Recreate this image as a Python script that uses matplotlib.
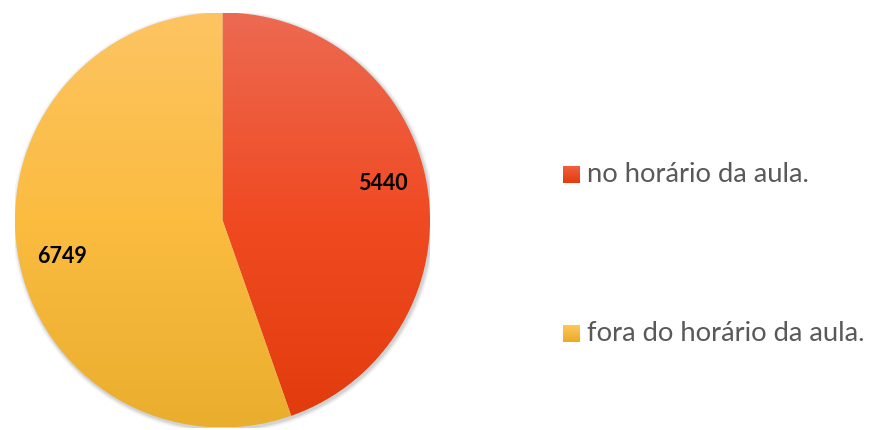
import numpy as np
import matplotlib
matplotlib.use('Agg')
import matplotlib.pyplot as plt
from matplotlib.colors import LinearSegmentedColormap
from matplotlib.patches import Circle

# data
categories = ['no horário da aula.', 'fora do horário da aula.']
values = [5440, 6749]
# gradient stops (top, middle, bottom) for each slice
grad_colors = [['#EC6A52', '#F04A22', '#E13B0C'],
               ['#FDC462', '#FBBC40', '#EAAE2E']]

W, H = 872, 430
fig = plt.figure(figsize=(W / 100, H / 100), dpi=100)

# pie placement in pixels
cx, cy, r = 222.5, 220, 207.5
ax = fig.add_axes([(cx - r) / W, (H - cy - r) / H, 2 * r / W, 2 * r / H])

# faint shadow under the pie
for k, a in [(4, 0.04), (2.5, 0.06), (1.2, 0.08)]:
    ax.add_patch(Circle((0.006, -0.008), 1 + k / r, color='black', alpha=a, lw=0, zorder=0))

wedges, texts, autotexts = ax.pie(
    values, startangle=90, counterclock=False, radius=1,
    colors=['none', 'none'], wedgeprops=dict(linewidth=0),
    autopct=lambda p: f'{round(p * sum(values) / 100):d}', pctdistance=0.8,
    textprops=dict(fontsize=15.5, fontweight='bold', color='black', family='Lato'))

grad = np.linspace(0, 1, 256).reshape(-1, 1)
for w, cols in zip(wedges, grad_colors):
    cmap = LinearSegmentedColormap.from_list('g', cols)
    im = ax.imshow(grad, extent=[-1, 1, -1, 1], origin='upper', cmap=cmap,
                   aspect='auto', zorder=1)
    im.set_clip_path(w)

# labels sit a little off the slice middle, like the original (best fit)
for w, t in zip(wedges, autotexts):
    ang = np.deg2rad((w.theta1 + w.theta2) / 2 + 3.2)
    t.set_position((0.795 * np.cos(ang), 0.795 * np.sin(ang)))
    t.set_zorder(3)

ax.set_xlim(-1, 1)
ax.set_ylim(-1, 1)
ax.axis('off')

# legend drawn in pixel coords
lax = fig.add_axes([0, 0, 1, 1])
lax.set_xlim(0, W)
lax.set_ylim(H, 0)
lax.axis('off')
leg_y = [174.5, 333.5]
leg_cols = [['#F35E3E', '#E23C0E'], ['#FFC859', '#EAA928']]
for lab, y, cols in zip(categories, leg_y, leg_cols):
    cmap = LinearSegmentedColormap.from_list('l', cols)
    lax.imshow(grad, extent=[563, 580, y + 8.5, y - 8.5], cmap=cmap, aspect='auto', origin='upper')
    lax.text(587, y, lab, fontsize=19.7, color='#595959', va='center', ha='left', family='Lato')
lax.set_xlim(0, W)
lax.set_ylim(H, 0)

fig.savefig('out.png', dpi=100)
